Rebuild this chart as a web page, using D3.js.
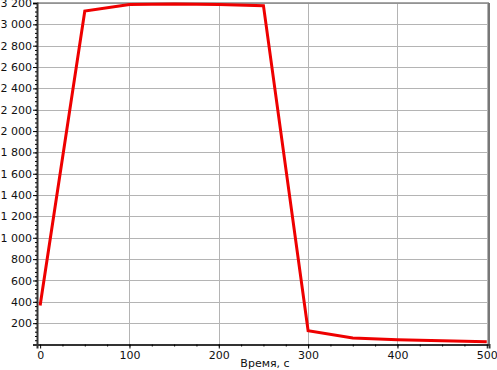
<!DOCTYPE html>
<html>
<head>
<meta charset="utf-8">
<style>
  body { margin: 0; background: #fff; }
  text { font-family: "DejaVu Sans", Verdana, sans-serif; }
</style>
</head>
<body>
<svg id="chart"></svg>
<script src="https://cdn.jsdelivr.net/npm/d3@7/dist/d3.min.js"></script>
<script>
const times = [0, 50, 100, 150, 200, 250, 300, 350, 400, 450, 500];
const values = [365, 3125, 3185, 3190, 3185, 3175, 130, 60, 44, 35, 25];
const xTicks = [0, 100, 200, 300, 400, 500];
const yTicks = [200, 400, 600, 800, 1000, 1200, 1400, 1600, 1800, 2000, 2200, 2400, 2600, 2800, 3000, 3200];
const xTitle = 'Время, с';

const [width, height] = [497, 370];
const svg = d3.select('#chart').attr('width', width).attr('height', height);

const pl = 37, pr = 489, pt = 3, pb = 344.5;
const x = d3.scaleLinear().domain([-3.5, 502.5]).range([pl, pr]);
const y = d3.scaleLinear().domain([0, 3200]).range([pb, pt]);

const fmt = v => d3.format(',')(v).replace(/,/g, ' ');

// grid
svg.append('g').selectAll('line').data(yTicks).enter().append('line')
  .attr('x1', pl).attr('x2', pr)
  .attr('y1', d => Math.round(y(d)) + 0.5).attr('y2', d => Math.round(y(d)) + 0.5)
  .attr('stroke', '#b4b4b4').attr('stroke-width', 1);
svg.append('g').selectAll('line').data(xTicks.slice(1)).enter().append('line')
  .attr('y1', pt).attr('y2', pb)
  .attr('x1', d => Math.round(x(d)) + 0.5).attr('x2', d => Math.round(x(d)) + 0.5)
  .attr('stroke', '#b4b4b4').attr('stroke-width', 1);

// frame
svg.append('line').attr('x1', pl).attr('x2', pr).attr('y1', pt).attr('y2', pt)
  .attr('stroke', '#888').attr('stroke-width', 1.5);
svg.append('line').attr('x1', pr).attr('x2', pr).attr('y1', pt).attr('y2', pb)
  .attr('stroke', '#777').attr('stroke-width', 2);

// y axis
const yAxis = svg.append('g').attr('transform', 'translate(' + pl + ',0)')
  .call(d3.axisLeft(y).tickValues(yTicks).tickFormat(fmt).tickSize(4).tickPadding(1));
svg.append('g').attr('transform', 'translate(' + pl + ',0)')
  .call(d3.axisLeft(y).tickValues(d3.range(40, 3200, 40)).tickFormat('').tickSize(2))
  .select('.domain').remove();
yAxis.select('.domain').attr('stroke', '#333').attr('stroke-width', 2);
yAxis.selectAll('text').style('font-size', '11px').attr('fill', '#111');

// x axis
const xAxis = svg.append('g').attr('transform', 'translate(0,' + pb + ')')
  .call(d3.axisBottom(x).tickValues(xTicks).tickSize(4).tickPadding(3));
svg.append('g').attr('transform', 'translate(0,' + pb + ')')
  .call(d3.axisBottom(x).tickValues(d3.range(25, 500, 25)).tickFormat('').tickSize(2))
  .select('.domain').remove();
xAxis.select('.domain').attr('stroke', '#333').attr('stroke-width', 2);
xAxis.selectAll('text').style('font-size', '11px').attr('fill', '#111');

svg.append('text').attr('x', 265).attr('y', 367).attr('text-anchor', 'middle')
  .style('font-size', '11px').attr('fill', '#111').text(xTitle);

// line
const line = d3.line().x((d, i) => x(times[i])).y(d => y(d));
svg.append('path').datum(values).attr('d', line)
  .attr('fill', 'none').attr('stroke', '#ee0000').attr('stroke-width', 3)
  .attr('stroke-linejoin', 'miter');
</script>
</body>
</html>
